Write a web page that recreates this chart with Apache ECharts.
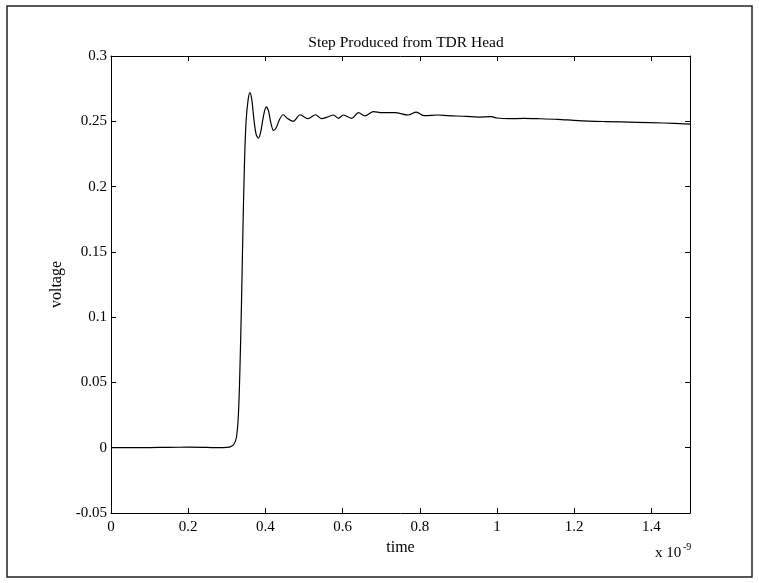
<!DOCTYPE html>
<html>
<head>
<meta charset="utf-8">
<script src="https://cdn.jsdelivr.net/npm/echarts@6/dist/echarts.min.js"></script>
<style>
  html, body { margin: 0; padding: 0; background: #fff; }
  #chart { width: 759px; height: 583px; }
</style>
</head>
<body>
<div id="chart"></div>
<script>
// time in units of 1e-9 s
var timeVals = [
  0.00, 0.05, 0.10, 0.15, 0.20, 0.25, 0.28, 0.30, 0.31, 0.318, 0.325, 0.33, 0.334, 0.338,
  0.342, 0.346, 0.35, 0.355, 0.360, 0.365, 0.370, 0.376, 0.382, 0.388, 0.395, 0.402,
  0.408, 0.414, 0.421, 0.428, 0.436, 0.446, 0.458, 0.472, 0.490, 0.510, 0.530, 0.545,
  0.563, 0.576, 0.589, 0.602, 0.624, 0.641, 0.658, 0.680, 0.702, 0.736, 0.770, 0.791,
  0.812, 0.847, 0.873, 0.92, 0.95, 0.985, 1.00, 1.03, 1.07, 1.105, 1.157, 1.21, 1.28,
  1.363, 1.43, 1.50
];
var voltVals = [
  0.0000, 0.0000, 0.0001, 0.0003, 0.0004, 0.0002, 0.0000, 0.0002, 0.0008, 0.0025, 0.008, 0.025, 0.06, 0.11,
  0.17, 0.22, 0.250, 0.266, 0.272, 0.266, 0.252, 0.240, 0.237, 0.242, 0.254, 0.261,
  0.258, 0.249, 0.243, 0.245, 0.251, 0.255, 0.252, 0.250, 0.255, 0.252, 0.255, 0.252,
  0.2535, 0.2548, 0.2523, 0.2548, 0.2523, 0.2566, 0.2541, 0.2574, 0.2566, 0.2566, 0.2548, 0.2570,
  0.2543, 0.2548, 0.2543, 0.2538, 0.2532, 0.2535, 0.2525, 0.2520, 0.2522, 0.2520, 0.2515, 0.2505, 0.2498,
  0.2492, 0.2487, 0.2479
];
var xTicks = { min: 0, max: 1.5, step: 0.2 };
var yTicks = { min: -0.05, max: 0.3, step: 0.05 };

var serif = 'Liberation Serif';
var lineData = timeVals.map(function (t, i) { return [t, voltVals[i]]; });

var chart = echarts.init(document.getElementById('chart'));

var baseAxisLine = { show: true, onZero: false, lineStyle: { color: '#000', width: 1 } };
var baseTick = { show: true, inside: true, length: 5, lineStyle: { color: '#000' } };
var baseLabel = { color: '#000', fontFamily: serif, fontSize: 15 };

var option = {
  backgroundColor: '#fff',
  animation: false,
  title: {
    text: 'Step Produced from TDR Head',
    left: 401,
    top: 30,
    textAlign: 'center',
    textStyle: { color: '#000', fontFamily: serif, fontSize: 15.5, fontWeight: 'normal' }
  },
  grid: { left: 111, right: 69, top: 56, bottom: 70, outerBoundsMode: 'none' },
  xAxis: [{
    type: 'value',
    position: 'bottom',
    min: xTicks.min, max: xTicks.max, interval: xTicks.step,
    name: 'time',
    nameLocation: 'middle',
    nameGap: 27,
    nameTextStyle: { color: '#000', fontFamily: serif, fontSize: 16 },
    axisLine: baseAxisLine,
    axisTick: baseTick,
    axisLabel: Object.assign({ margin: 7, showMaxLabel: false }, baseLabel),
    splitLine: { show: false }
  }, {
    type: 'value',
    position: 'top',
    min: xTicks.min, max: xTicks.max, interval: xTicks.step,
    axisLine: baseAxisLine,
    axisTick: baseTick,
    axisLabel: { show: false },
    splitLine: { show: false }
  }],
  yAxis: [{
    type: 'value',
    position: 'left',
    min: yTicks.min, max: yTicks.max, interval: yTicks.step,
    name: 'voltage',
    nameLocation: 'middle',
    nameGap: 41,
    nameTextStyle: { color: '#000', fontFamily: serif, fontSize: 16 },
    axisLine: baseAxisLine,
    axisTick: baseTick,
    axisLabel: Object.assign({ margin: 4 }, baseLabel),
    splitLine: { show: false }
  }, {
    type: 'value',
    position: 'right',
    min: yTicks.min, max: yTicks.max, interval: yTicks.step,
    axisLine: baseAxisLine,
    axisTick: baseTick,
    axisLabel: { show: false },
    splitLine: { show: false }
  }],
  series: [{
    type: 'line',
    xAxisIndex: 0,
    yAxisIndex: 0,
    data: lineData,
    showSymbol: false,
    smooth: 0.3,
    lineStyle: { color: '#000', width: 1.2 }
  }],
  graphic: [
    {
      type: 'rect',
      shape: { x: 7, y: 6, width: 745, height: 571 },
      style: { fill: 'none', stroke: '#222', lineWidth: 1.5 },
      silent: true
    },
    {
      type: 'text',
      left: 655,
      top: 546,
      style: { text: 'x 10', fill: '#000', font: '15px "Liberation Serif"' }
    },
    {
      type: 'text',
      left: 683,
      top: 542,
      style: { text: '-9', fill: '#000', font: '10px "Liberation Serif"' }
    }
  ]
};

chart.setOption(option);
</script>
</body>
</html>
